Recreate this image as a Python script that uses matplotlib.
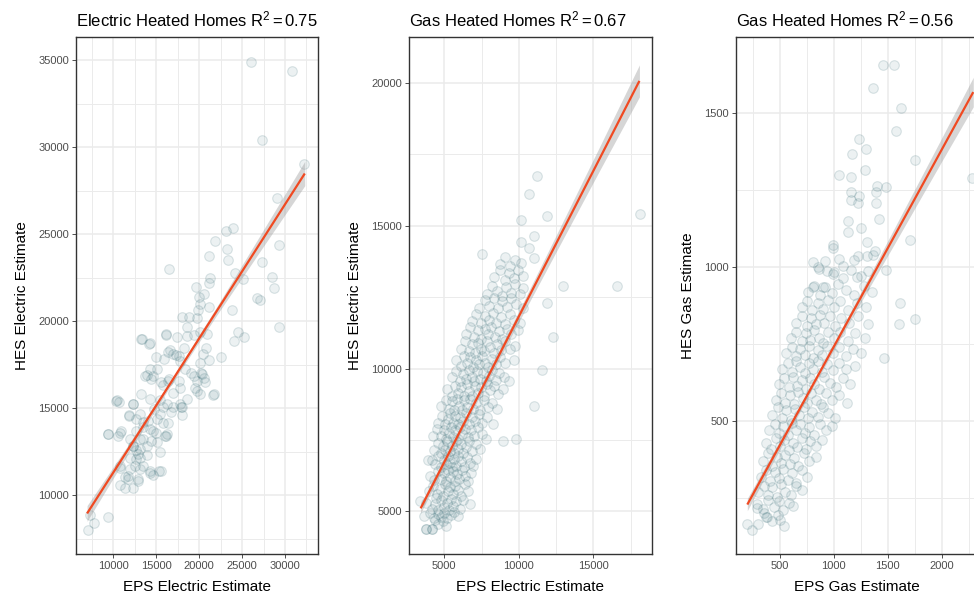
import numpy as np
import matplotlib
matplotlib.use("Agg")
import matplotlib.pyplot as plt
from matplotlib.ticker import MultipleLocator

plt.rcParams['font.family'] = ['Liberation Sans', 'DejaVu Sans']
plt.rcParams['mathtext.fontset'] = 'custom'
plt.rcParams['mathtext.rm'] = 'Liberation Sans'
plt.rcParams['mathtext.it'] = 'Liberation Sans:italic'

# ---- electric heated homes: EPS vs HES electric (kWh) ----
elec_pts = np.array([
    (26000, 34900), (30800, 34400), (27300, 30400), (32200, 29060), (29100, 27100), (29300, 24400),
    (27300, 23400), (28500, 22550), (28700, 21900), (26700, 21350), (27050, 21250), (29250, 19700),
    (25200, 19100), (24550, 19400), (24050, 18850), (22550, 17950), (23850, 20650), (24150, 22800),
    (25150, 22450), (23100, 25200), (23950, 25350), (23200, 24150), (23400, 23500), (21900, 24600),
    (21100, 23750), (21300, 22500), (21200, 22200), (19650, 21950), (20000, 21400), (20550, 21600),
    (20150, 21000), (19900, 20650), (21100, 20800), (16500, 23000), (18050, 20250), (18850, 20250),
    (19700, 20200), (18600, 19700), (19400, 19200), (20100, 19400), (20900, 19250), (13350, 19000),
    (14250, 18750), (16100, 19250), (16350, 18250), (17000, 18150), (17600, 18000), (18200, 18450),
    (17750, 17700), (20850, 18450), (20450, 18150), (20100, 17600), (21150, 17800), (18350, 17250),
    (19100, 17050), (19700, 16600), (20250, 17050), (20550, 16750), (21750, 15800), (20100, 15800),
    (19550, 16150), (17750, 16150), (17000, 15900), (15050, 17250), (14450, 16700), (13900, 16900),
    (15800, 16350), (16400, 16600), (15450, 15500), (16200, 15250), (17000, 15050), (17950, 15050),
    (18050, 14600), (17750, 15250), (10400, 15500), (10650, 15350), (11800, 14600), (12350, 15250),
    (12700, 14400), (13100, 14700), (13500, 13950), (14050, 14250), (14650, 13700), (15050, 14400),
    (15450, 14700), (15800, 14150), (16400, 14150), (16200, 13500), (10850, 13700), (9400, 13500),
    (10600, 13400), (11950, 13250), (12350, 12850), (12700, 12600), (13100, 13250), (13900, 12850),
    (14450, 13150), (15050, 13050), (15450, 12500), (16000, 13400), (13100, 12150), (13900, 12300),
    (13500, 11700), (12500, 11700), (11950, 11500), (10800, 11600), (11350, 11050), (11750, 10950),
    (10800, 10600), (11350, 10450), (12250, 10450), (12900, 10850), (14250, 11300), (14650, 11150),
    (15600, 11400), (12900, 12400), (9400, 8750), (7800, 8400), (7000, 8000), (7300, 8850),
    (13260, 19000), (14140, 18710), (16130, 19190), (17470, 19090), (18620, 19150), (16590, 18330),
    (17280, 18040), (15940, 17840), (14980, 17940), (14220, 17270), (13640, 16880), (14600, 16880),
    (15560, 16500), (16510, 16690), (17660, 16590), (19390, 16880), (20340, 16980), (20730, 16500),
    (21570, 15790), (19770, 16020), (18620, 15540), (10310, 15440), (12300, 15250), (13260, 15830),
    (14220, 15540), (14790, 14960), (15750, 15060), (16700, 14770), (17860, 15060), (11840, 14580),
    (10770, 13610), (9430, 13520), (12680, 13710), (13450, 14190), (14220, 13810), (14980, 13610),
    (16130, 13420), (13450, 13230), (12300, 12840), (13070, 12650), (11920, 12170), (12680, 12080),
    (10770, 11690), (11730, 11110), (13070, 11500), (14220, 11400), (15370, 11400), (12880, 10920),
])
elec_fit_x = [6950, 32300]
elec_fit_y = [8960, 28500]
elec_band_x = [6950, 12000, 17000, 22000, 27000, 32300]
elec_band_half = [450, 240, 150, 240, 450, 700]

# ---- gas heated homes: EPS vs HES electric (kWh) ----
gas_elec_pts = np.array([
    (11240, 16740), (10680, 16120), (11890, 15330), (18130, 15400), (10150, 15180), (11020, 14620),
    (10150, 14440), (10680, 14210), (11020, 13880), (7510, 14000), (12940, 12870), (16570, 12870),
    (11890, 12300), (12290, 11110), (11530, 9940), (11020, 8700), (8960, 7470), (9810, 7520),
    (6720, 5270), (3370, 5380), (3750, 4370), (4150, 4370), (3930, 6800), (4260, 7650),
    (3750, 4380), (4150, 4400), (4600, 4550), (4900, 4650), (5100, 4480), (4400, 4700),
    (3650, 4850), (4300, 4780), (4550, 4900), (4750, 4820), (4950, 4950), (5200, 4760),
    (5450, 4880), (5650, 4990), (4050, 4950), (5900, 4850),
    (3800, 5300), (4150, 5100), (4350, 5250), (4600, 5050), (4800, 5400), (4950, 5150),
    (5150, 5300), (5300, 5050), (5450, 5450), (5600, 5200), (5800, 5350), (6050, 5100),
    (6250, 5400), (4450, 5480),
    (3950, 5700), (4250, 5900), (4500, 5600), (4700, 5800), (4900, 5550), (5050, 5950),
    (5250, 5700), (5400, 5850), (5550, 5600), (5750, 5900), (5950, 5750), (6150, 5550),
    (6400, 5950), (6600, 5700),
    (4050, 6250), (4300, 6100), (4550, 6400), (4750, 6150), (4950, 6350), (5100, 6050),
    (5250, 6450), (5400, 6200), (5550, 6400), (5700, 6050), (5850, 6300), (6000, 6150),
    (6200, 6450), (6400, 6250), (6600, 6050), (6800, 6350),
    (4150, 6800), (4400, 6650), (4600, 6950), (4800, 6550), (4950, 6800), (5100, 6650),
    (5250, 6950), (5400, 6700), (5500, 6550), (5650, 6850), (5800, 6600), (5950, 6950),
    (6100, 6750), (6300, 6550), (6500, 6900), (6700, 6700), (6900, 6600), (7100, 6850),
    (4300, 7150), (4550, 7400), (4750, 7050), (4900, 7300), (5050, 7150), (5200, 7450),
    (5350, 7100), (5500, 7300), (5650, 7050), (5800, 7450), (5950, 7200), (6100, 7350),
    (6250, 7050), (6450, 7250), (6650, 7450), (6850, 7100), (7100, 7350), (7400, 7200),
    (4500, 7900), (4750, 7650), (4950, 7850), (5100, 7550), (5300, 7750), (5450, 7950),
    (5600, 7600), (5750, 7850), (5900, 7550), (6050, 7950), (6200, 7700), (6400, 7900),
    (6600, 7600), (6800, 7850), (7000, 7650), (7250, 7950), (7500, 7700), (7800, 7550),
    (4600, 8100), (4850, 8350), (5050, 8050), (5250, 8250), (5400, 8450), (5550, 8100),
    (5750, 8350), (5900, 8050), (6050, 8300), (6250, 8150), (6450, 8450), (6650, 8050),
    (6850, 8300), (7050, 8150), (7300, 8400), (7550, 8100), (7850, 8300), (8250, 8050),
    (4800, 8700), (5100, 8900), (5300, 8600), (5500, 8850), (5650, 8550), (5850, 8950),
    (6000, 8700), (6200, 8550), (6350, 8900), (6550, 8650), (6750, 8950), (6950, 8600),
    (7150, 8800), (7400, 8550), (7650, 8900), (7900, 8650), (8200, 8800), (8550, 8600),
    (5200, 9300), (5500, 9050), (5700, 9400), (5900, 9150), (6100, 9350), (6300, 9050),
    (6500, 9450), (6650, 9200), (6850, 9050), (7050, 9400), (7250, 9150), (7450, 9350),
    (7650, 9050), (7850, 9450), (8050, 9250), (8300, 9400), (8600, 9100), (8950, 9300),
    (5500, 9700), (5800, 9900), (6050, 9550), (6250, 9800), (6450, 9650), (6650, 9950),
    (6850, 9700), (7000, 9550), (7200, 9900), (7400, 9650), (7600, 9850), (7800, 9550),
    (8000, 9750), (8200, 9950), (8450, 9600), (8700, 9850), (9000, 9700), (9350, 9550),
    (5800, 10300), (6100, 10100), (6350, 10450), (6550, 10200), (6750, 10400), (6950, 10050),
    (7150, 10300), (7350, 10150), (7550, 10450), (7750, 10200), (7950, 10050), (8200, 10350),
    (8450, 10150), (8750, 10400), (9100, 10200), (9650, 10300),
    (6100, 10700), (6400, 10950), (6650, 10600), (6850, 10850), (7050, 10550), (7250, 10900),
    (7450, 10700), (7650, 10600), (7850, 10950), (8050, 10750), (8300, 10550), (8550, 10850),
    (8800, 10650), (9100, 10950), (9400, 10700), (9750, 10800),
    (6450, 11200), (6750, 11450), (7000, 11100), (7250, 11350), (7450, 11050), (7700, 11400),
    (7950, 11200), (8150, 11450), (8400, 11100), (8650, 11300), (8900, 11050), (9200, 11400),
    (9500, 11200), (9950, 11350),
    (6850, 11650), (7150, 11900), (7450, 11600), (7700, 11850), (8000, 11700), (8250, 11950),
    (8500, 11600), (8800, 11800), (9100, 11550), (9400, 11900), (9700, 11700), (10100, 11600),
    (7350, 12100), (7700, 12400), (8000, 12200), (8300, 12450), (8600, 12100), (8900, 12350),
    (9200, 12150), (9500, 12450), (9800, 12250), (10250, 12100),
    (7850, 12600), (8200, 12900), (8550, 12700), (8850, 12550), (9150, 12850), (9450, 12650),
    (9750, 12950), (10050, 12600), (10300, 12800),
    (8350, 13200), (8750, 13450), (9050, 13100), (9350, 13350), (9650, 13150), (9950, 13450),
    (10250, 13250),
    (8750, 13650), (9100, 13900), (9400, 13600), (9750, 13800), (10150, 13700),
])
gas_elec_fit_x = [3410, 18090]
gas_elec_fit_y = [5110, 20060]
gas_elec_band_x = [3410, 6500, 9500, 12500, 15500, 18090]
gas_elec_band_half = [170, 110, 170, 290, 420, 560]

# ---- gas heated homes: EPS vs HES gas (therms) ----
gas_pts = np.array([
    (1458, 1656), (1557, 1658), (1365, 1581), (1620, 1518), (1573, 1441), (1233, 1416),
    (1295, 1385), (1171, 1369), (1752, 1347), (1285, 1317), (1050, 1301), (1156, 1293),
    (1403, 1264), (1483, 1261), (1394, 1244), (1159, 1244), (1233, 1231), (1159, 1218),
    (1221, 1208), (1394, 1208), (2278, 1290), (1128, 1151), (1421, 1158), (1128, 1116),
    (1251, 1126), (1706, 1089), (1304, 1081), (989, 1073), (995, 1062), (1050, 1027),
    (1186, 1022), (1226, 1038), (1304, 1038), (1381, 1054), (1483, 992), (809, 1016),
    (855, 1000), (933, 989), (995, 979), (1088, 966), (1212, 968), (1320, 989),
    (809, 935), (902, 935), (1613, 885), (1607, 816), (1755, 831), (1468, 706),
    (197, 166), (237, 146), (370, 187), (500, 179), (284, 219),
    (300, 165), (380, 190), (430, 175), (480, 195), (540, 160), (350, 200),
    (290, 230), (340, 215), (390, 245), (440, 220), (490, 240), (530, 210), (580, 235), (620, 225),
    (300, 270), (350, 290), (390, 260), (430, 285), (470, 255), (510, 295), (550, 270),
    (600, 260), (650, 290), (700, 275),
    (320, 320), (370, 340), (410, 305), (450, 335), (490, 315), (530, 345), (570, 310),
    (610, 330), (650, 300), (700, 340), (750, 320),
    (340, 370), (390, 395), (430, 355), (470, 385), (510, 365), (550, 390), (590, 360),
    (630, 380), (670, 355), (720, 395), (770, 370), (830, 385),
    (370, 430), (420, 410), (460, 445), (500, 420), (540, 440), (580, 405), (620, 430),
    (660, 415), (700, 445), (740, 410), (780, 435), (830, 420), (890, 440),
    (400, 470), (450, 490), (490, 460), (530, 485), (570, 455), (610, 495), (650, 470),
    (690, 490), (730, 460), (770, 480), (820, 455), (870, 490), (930, 470), (980, 485),
    (430, 520), (480, 545), (520, 510), (560, 535), (600, 505), (640, 540), (680, 520),
    (720, 545), (760, 510), (800, 530), (850, 515), (900, 545), (950, 525), (1010, 510),
    (460, 570), (510, 590), (550, 560), (590, 585), (630, 555), (670, 595), (710, 575),
    (750, 560), (790, 590), (830, 570), (880, 555), (930, 590), (980, 570), (1050, 585), (1120, 560),
    (490, 620), (540, 640), (580, 610), (620, 645), (660, 615), (700, 635), (740, 605),
    (780, 640), (820, 620), (860, 605), (910, 645), (960, 625), (1020, 610), (1080, 640), (1150, 620),
    (520, 670), (570, 690), (610, 660), (650, 695), (690, 675), (730, 655), (770, 690),
    (810, 670), (850, 695), (890, 660), (940, 685), (990, 665), (1050, 690), (1110, 670), (1200, 680),
    (560, 720), (610, 740), (650, 710), (690, 735), (730, 715), (770, 745), (810, 705),
    (850, 730), (890, 715), (940, 745), (990, 720), (1050, 740), (1110, 710), (1180, 735), (1250, 720),
    (600, 770), (650, 790), (700, 760), (740, 785), (780, 765), (820, 795), (860, 770),
    (900, 755), (950, 790), (1000, 770), (1060, 790), (1130, 760), (1200, 785), (1290, 770),
    (650, 820), (700, 840), (750, 810), (790, 835), (830, 815), (870, 845), (910, 820),
    (960, 840), (1010, 810), (1070, 835), (1140, 820), (1220, 840), (1320, 815),
    (700, 870), (750, 890), (800, 860), (850, 885), (900, 865), (950, 895), (1000, 870),
    (1060, 890), (1130, 860), (1210, 885), (1300, 870),
    (760, 920), (820, 940), (870, 910), (920, 935), (980, 915), (1040, 945), (1110, 925),
    (1190, 910), (1280, 940), (1350, 920),
    (860, 995), (1000, 985), (1160, 990), (1250, 970),
    (920, 1020), (1080, 1005), (1360, 1040),
])
gas_fit_x = [197, 2293]
gas_fit_y = [229, 1569]
gas_band_x = [197, 800, 1200, 1600, 2000, 2293]
gas_band_half = [20, 8, 15, 27, 38, 48]

panels = [
    dict(pts=elec_pts, fx=elec_fit_x, fy=elec_fit_y, bx=elec_band_x, bh=elec_band_half,
         xlim=(5660, 33840), ylim=(6640, 36330), xstep=5000, ystep=5000,
         title=r"Electric Heated Homes R$^2\,$=$\,$0.75",
         xlabel="EPS Electric Estimate", ylabel="HES Electric Estimate",
         rect=[76, 37.3, 242, 516.5]),
    dict(pts=gas_elec_pts, fx=gas_elec_fit_x, fy=gas_elec_fit_y, bx=gas_elec_band_x, bh=gas_elec_band_half,
         xlim=(2630, 18915), ylim=(3520, 21585), xstep=5000, ystep=5000,
         title=r"Gas Heated Homes R$^2\,$=$\,$0.67",
         xlabel="EPS Electric Estimate", ylabel="HES Electric Estimate",
         rect=[409, 37.3, 242.7, 516.5]),
    dict(pts=gas_pts, fx=gas_fit_x, fy=gas_fit_y, bx=gas_band_x, bh=gas_band_half,
         xlim=(92, 2337), ylim=(69, 1747), xstep=500, ystep=500,
         title=r"Gas Heated Homes R$^2\,$=$\,$0.56",
         xlabel="EPS Gas Estimate", ylabel="HES Gas Estimate",
         rect=[736, 37.3, 242, 516.5]),
]

W, H = 974, 600
fig = plt.figure(figsize=(W / 100, H / 100), dpi=100)

pt_face = (0.18, 0.40, 0.44, 0.09)
pt_edge = (0.18, 0.40, 0.44, 0.17)

for p in panels:
    l, t, w, h = p['rect']
    ax = fig.add_axes([l / W, 1 - (t + h) / H, w / W, h / H])

    ax.scatter(p['pts'][:, 0], p['pts'][:, 1], s=48, facecolor=pt_face,
               edgecolor=pt_edge, linewidth=0.8, zorder=2)

    # confidence band and fitted line
    bx = np.array(p['bx'], dtype=float)
    mid = np.interp(bx, p['fx'], p['fy'])
    half = np.array(p['bh'], dtype=float)
    ax.fill_between(bx, mid - half, mid + half, color='#999999', alpha=0.4, lw=0, zorder=3)
    ax.plot(p['fx'], p['fy'], color='#F04A22', lw=1.6, zorder=4, solid_capstyle='butt')

    ax.set_xlim(p['xlim'])
    ax.set_ylim(p['ylim'])
    ax.xaxis.set_major_locator(MultipleLocator(p['xstep']))
    ax.yaxis.set_major_locator(MultipleLocator(p['ystep']))
    ax.xaxis.set_minor_locator(MultipleLocator(p['xstep'] / 2))
    ax.yaxis.set_minor_locator(MultipleLocator(p['ystep'] / 2))

    ax.grid(which='major', color='#EBEBEB', lw=1.1)
    ax.grid(which='minor', color='#EBEBEB', lw=0.7)
    ax.set_axisbelow(True)

    ax.tick_params(which='major', length=3, width=0.6, color='#333333',
                   labelsize=8, labelcolor='#4D4D4D', pad=2)
    ax.tick_params(which='minor', length=0)
    for s in ax.spines.values():
        s.set_color('#333333')
        s.set_linewidth(1.0)

    ax.set_title(p['title'], loc='left', fontsize=12, pad=8)
    ax.set_xlabel(p['xlabel'], fontsize=11, labelpad=7)
    ax.set_ylabel(p['ylabel'], fontsize=11, labelpad=7)

fig.savefig('out.png', dpi=100)
